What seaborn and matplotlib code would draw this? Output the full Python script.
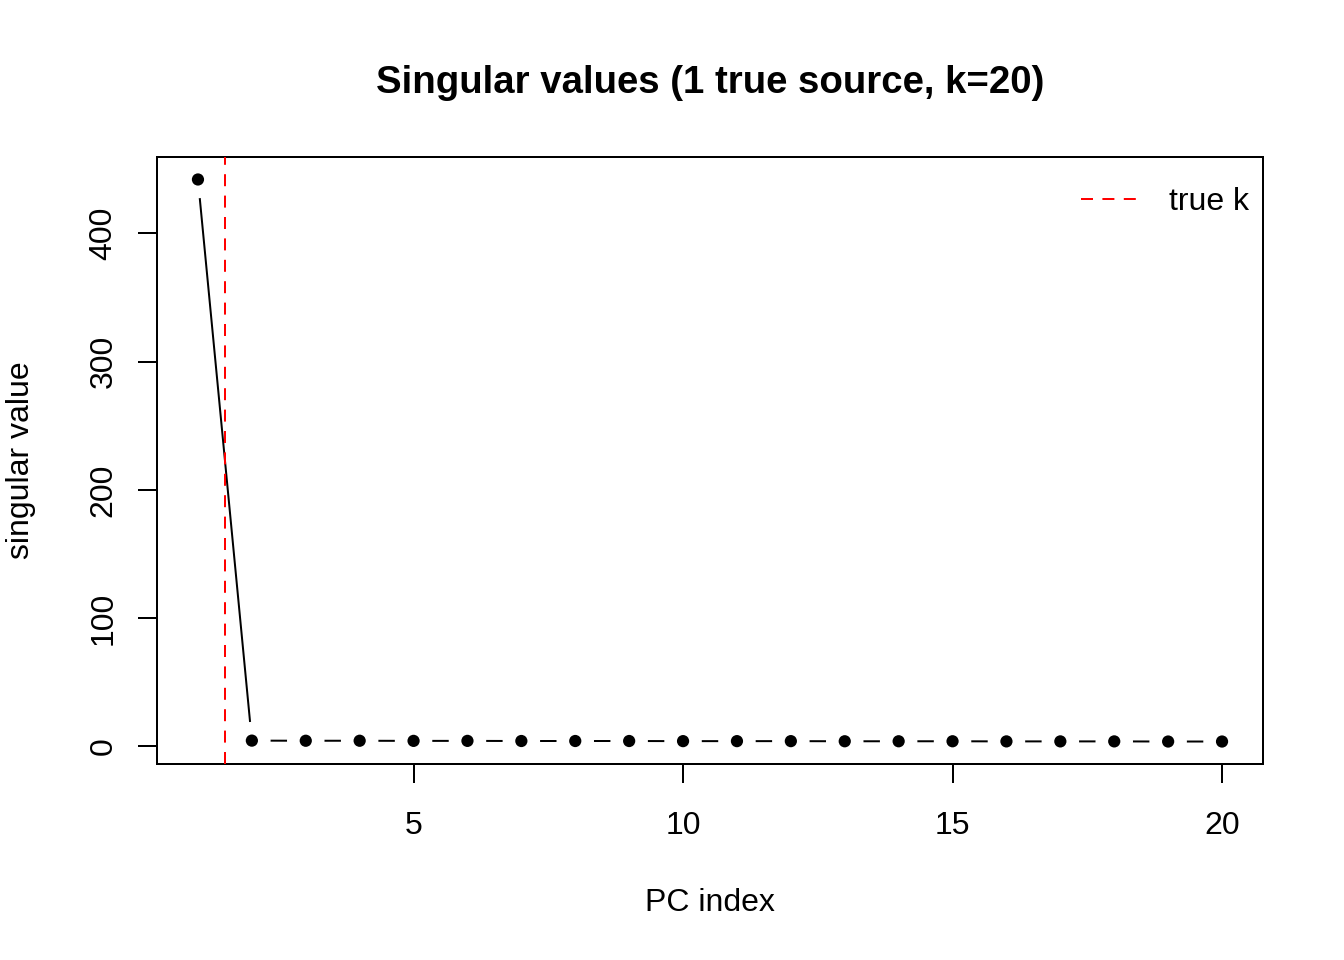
import matplotlib
matplotlib.use("Agg")
import matplotlib.pyplot as plt
import seaborn as sns
import pandas as pd
import numpy as np

pc_index = list(range(1, 21))
singular_values = [442.0, 4.5, 4.4, 4.4, 4.3, 4.3, 4.2, 4.2, 4.2, 4.1,
                   4.1, 4.1, 4.0, 4.0, 4.0, 3.9, 3.9, 3.9, 3.8, 3.8]
true_k = 1.5
title = "Singular values (1 true source, k=20)"
x_ticks = [5, 10, 15, 20]
y_ticks = [0, 100, 200, 300, 400]

sns.set_theme(style="white")
plt.rcParams['font.family'] = ['Liberation Sans', 'DejaVu Sans']
plt.rcParams['text.color'] = 'black'
plt.rcParams['axes.labelcolor'] = 'black'
plt.rcParams['xtick.color'] = 'black'
plt.rcParams['ytick.color'] = 'black'

df = pd.DataFrame({"pc": pc_index, "sv": singular_values})

fig = plt.figure(figsize=(13.44, 9.6), dpi=100)
ax = fig.add_axes([157/1344, 1-764/960, (1263-157)/1344, (764-157)/960])

lw = 1.44
sns.lineplot(data=df, x="pc", y="sv", ax=ax, color="black", lw=lw, zorder=1)
sns.scatterplot(data=df, x="pc", y="sv", ax=ax, color="white", s=27.0**2,
                edgecolor="none", linewidth=0, zorder=2, legend=False)
ax.axvline(true_k, color="#FF0000", lw=lw, dashes=(6, 4.7), zorder=3, label="true k")
sns.scatterplot(data=df, x="pc", y="sv", ax=ax, color="black", s=8.8**2,
                edgecolor="none", linewidth=0, zorder=4, legend=False)

xmin, xmax = min(pc_index), max(pc_index)
ymin, ymax = min(singular_values), max(singular_values)
ax.set_xlim(xmin - 0.04*(xmax-xmin), xmax + 0.04*(xmax-xmin))
ax.set_ylim(ymin - 0.04*(ymax-ymin), ymax + 0.04*(ymax-ymin))

ax.set_xticks(x_ticks)
ax.set_yticks(y_ticks)
ax.set_xticklabels([str(t) for t in x_ticks], fontsize=23)
ax.set_yticklabels([str(t) for t in y_ticks], fontsize=23, rotation=90, va="center")
ax.tick_params(axis="both", direction="out", length=13.7, width=lw, color="black",
               bottom=True, left=True)
ax.tick_params(axis="x", pad=20)
ax.tick_params(axis="y", pad=14)
for s in ax.spines.values():
    s.set_color("black")
    s.set_linewidth(lw)

ax.set_xlabel("PC index", fontsize=23, labelpad=34)
ax.set_ylabel("singular value", fontsize=23, labelpad=38)
ax.set_title(title, fontsize=27.6, fontweight="bold", pad=46)

ax.legend(loc="upper right", frameon=False, fontsize=23, handlelength=1.75,
          handletextpad=1.0, borderaxespad=0, bbox_to_anchor=(0.9986, 0.971))

fig.savefig("out.png", dpi=100, facecolor="white")
